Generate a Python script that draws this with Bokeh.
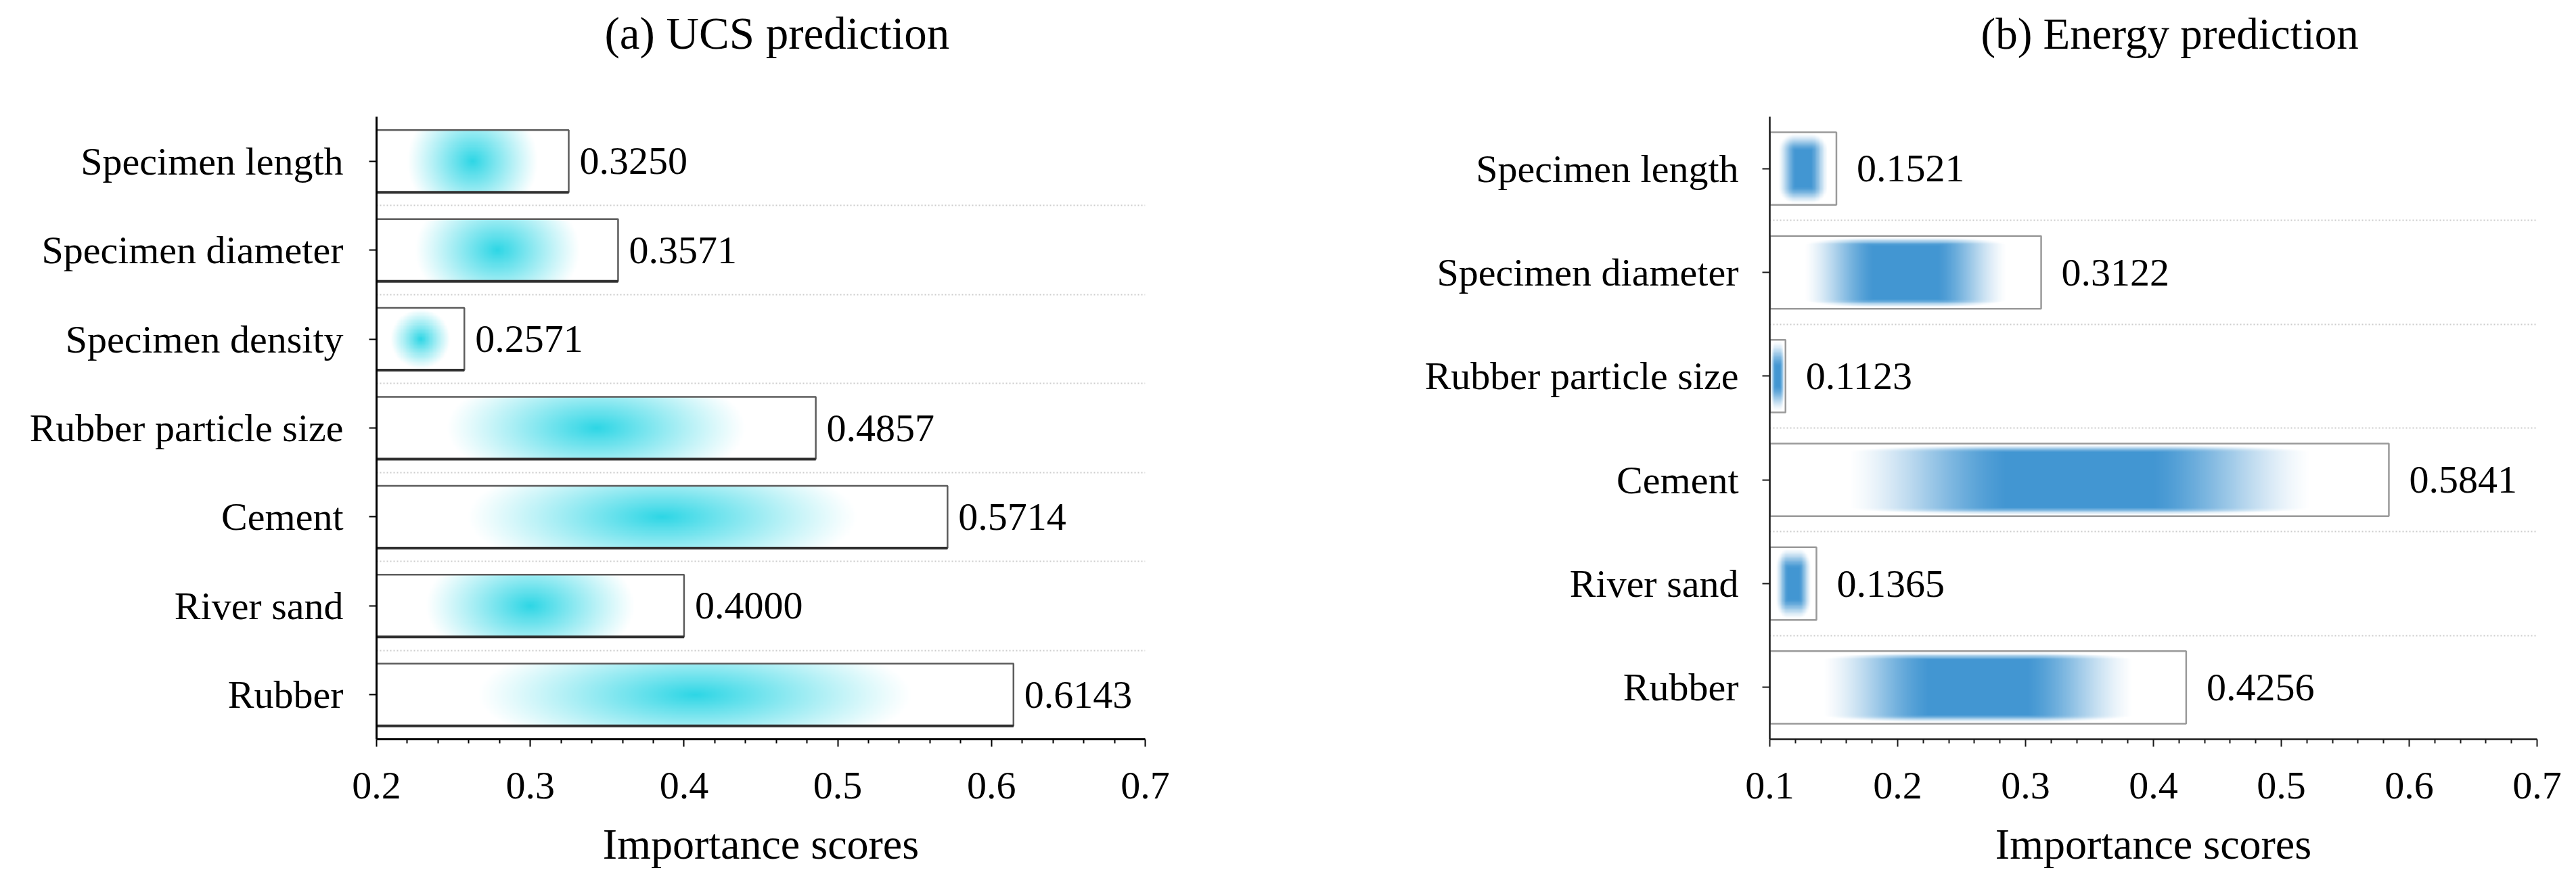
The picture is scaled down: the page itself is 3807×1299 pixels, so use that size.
import numpy as np
from bokeh.plotting import figure
from bokeh.layouts import row
from bokeh.models import FixedTicker, Title
from bokeh.embed import file_html
from bokeh.resources import INLINE
from bokeh.core.properties import value

# ---------------- data ----------------
ucs_features = ["Specimen length", "Specimen diameter", "Specimen density",
                "Rubber particle size", "Cement", "River sand", "Rubber"]
ucs_scores = [0.3250, 0.3571, 0.2571, 0.4857, 0.5714, 0.4000, 0.6143]
ucs_x_ticks = [0.2, 0.3, 0.4, 0.5, 0.6, 0.7]

energy_features = ["Specimen length", "Specimen diameter", "Rubber particle size",
                   "Cement", "River sand", "Rubber"]
energy_scores = [0.1521, 0.3122, 0.1123, 0.5841, 0.1365, 0.4256]
energy_x_ticks = [0.1, 0.2, 0.3, 0.4, 0.5, 0.6, 0.7]

FONT = "Liberation Serif"
BAR_H = 0.7
H = 1299
TOP = 172
BOTTOM = H - 1092


def smoothstep(t):
    t = np.clip(t, 0, 1)
    return t * t * (3 - 2 * t)


def grid(wpx, hpx):
    nx, ny = max(2, int(wpx / 2)), max(2, int(hpx / 2))
    hw, hh = wpx / 2.0, hpx / 2.0
    xs = (np.arange(nx) + 0.5) / nx * wpx - hw
    ys = (np.arange(ny) + 0.5) / ny * hpx - hh
    X, Y = np.meshgrid(xs, ys)
    return X, Y, hw, hh


def cyan_blob(wpx, hpx):
    X, Y, hw, hh = grid(wpx, hpx)
    rx = 0.68 * hw
    ry = min(rx, 2.0 * hh)
    r = np.sqrt((X / rx) ** 2 + (Y / ry) ** 2)
    return np.clip(1 - r, 0, 1) ** 1.1


def blue_blob(wpx, hpx):
    X, Y, hw, hh = grid(wpx, hpx)
    outer = 0.74 * hw if hw > 20 else 0.92 * hw
    core = 0.32 * outer
    u = np.clip((np.abs(X) - core) / max(outer - core, 1e-6), 0, 1)
    vout = 0.96 * hh
    fy = (0.2 + 0.6 * np.exp(-hw / 60.0)) * hh
    v = np.clip((np.abs(Y) - (vout - fy)) / fy, 0, 1)
    r = np.sqrt(u ** 2 + v ** 2)
    t = np.clip(1 - r, 0, 1)
    return 0.5 * t + 0.5 * smoothstep(t)


def to_rgba(inten, rgb):
    ny, nx = inten.shape
    img = np.empty((ny, nx, 4), dtype=np.uint8)
    for k in range(3):
        img[:, :, k] = np.round(255 * (1 - inten) + rgb[k] * inten).astype(np.uint8)
    img[:, :, 3] = 255
    return img.view(dtype=np.uint32).reshape((ny, nx))


def make_panel(title, title_size, title_offset, features, scores, xticks, width,
               border_left, border_right, blob_fn, rgb, bar_line, bar_lw, shadow,
               label_gap, ylab_standoff, axis_color, axis_w):
    n = len(features)
    ys = [n - 1 - i for i in range(n)]
    x0, x1 = xticks[0], xticks[-1]
    frame_w = width - border_left - border_right
    frame_h = H - TOP - BOTTOM
    px_x = frame_w / (x1 - x0)
    px_y = frame_h / n

    p = figure(width=width, height=H, output_backend="svg", toolbar_location=None,
               x_range=(x0, x1), y_range=(-0.5, n - 0.5),
               min_border_left=border_left, min_border_right=border_right,
               min_border_top=TOP, min_border_bottom=BOTTOM)
    p.outline_line_color = None
    p.background_fill_color = "white"
    p.border_fill_color = "white"

    # spacer between frame and title, then the title itself (outermost)
    p.add_layout(Title(text=" ", text_font_size="1px", standoff=84), "above")
    p.add_layout(Title(text=title, align="left", text_font=FONT,
                       text_font_size=title_size, text_font_style="normal",
                       text_color="black", offset=title_offset, standoff=0), "above")

    # gradient fills
    imgs, ix, iy, idw, idh = [], [], [], [], []
    for v, y in zip(scores, ys):
        wpx = (v - x0) * px_x
        hpx = BAR_H * px_y
        imgs.append(to_rgba(blob_fn(wpx, hpx), rgb))
        ix.append(x0)
        iy.append(y - BAR_H / 2)
        idw.append(v - x0)
        idh.append(BAR_H)
    p.image_rgba(image=imgs, x=ix, y=iy, dw=idw, dh=idh)

    # bar outlines
    p.hbar(y=ys, left=x0, right=scores, height=BAR_H, fill_color=None,
           line_color=bar_line, line_width=bar_lw)
    if shadow:
        p.segment(x0=[x0] * n, y0=[y - BAR_H / 2 for y in ys], x1=scores,
                  y1=[y - BAR_H / 2 for y in ys], line_color="#2f2f2f", line_width=4)

    # value labels
    p.text(x=scores, y=ys, text=[f"{v:.4f}" for v in scores], x_offset=label_gap,
           text_baseline="middle", text_align="left", text_font=value(FONT),
           text_font_size="58px", text_color="black")

    # grid
    p.xgrid.visible = False
    p.ygrid.ticker = FixedTicker(ticks=[k + 0.5 for k in range(n - 1)])
    p.ygrid.grid_line_color = "#cccccc"
    p.ygrid.grid_line_dash = "2 3"
    p.ygrid.grid_line_width = 2

    # x axis
    minor = []
    for a, b in zip(xticks[:-1], xticks[1:]):
        for k in range(1, 5):
            minor.append(a + (b - a) * k / 5)
    p.xaxis.ticker = FixedTicker(ticks=xticks, minor_ticks=minor)
    p.xaxis.major_label_overrides = {t: f"{t:.1f}" for t in xticks}
    p.xaxis.axis_label = "Importance scores"
    p.xaxis.axis_label_text_font = FONT
    p.xaxis.axis_label_text_font_size = "64px"
    p.xaxis.axis_label_text_font_style = "normal"
    p.xaxis.axis_label_text_color = "black"
    p.xaxis.axis_label_standoff = 29
    p.xaxis.major_label_text_font = FONT
    p.xaxis.major_label_text_font_size = "58px"
    p.xaxis.major_label_text_color = "black"
    p.xaxis.major_label_standoff = 38
    p.xaxis.major_tick_out = 11
    p.xaxis.major_tick_in = 0
    p.xaxis.minor_tick_out = 6
    p.xaxis.minor_tick_in = 0
    p.xaxis.axis_line_width = axis_w
    p.xaxis.major_tick_line_width = 2
    p.xaxis.minor_tick_line_width = 2
    p.xaxis.axis_line_color = axis_color
    p.xaxis.major_tick_line_color = axis_color
    p.xaxis.minor_tick_line_color = axis_color

    # y axis
    p.yaxis.ticker = FixedTicker(ticks=ys)
    p.yaxis.major_label_overrides = {y: f for y, f in zip(ys, features)}
    p.yaxis.major_label_text_font = FONT
    p.yaxis.major_label_text_font_size = "58px"
    p.yaxis.major_label_text_color = "black"
    p.yaxis.major_label_standoff = ylab_standoff
    p.yaxis.major_tick_out = 11
    p.yaxis.major_tick_in = 0
    p.yaxis.minor_tick_line_color = None
    p.yaxis.axis_line_width = axis_w
    p.yaxis.major_tick_line_width = 2
    p.yaxis.axis_line_color = axis_color
    p.yaxis.major_tick_line_color = axis_color
    return p


p1 = make_panel("(a) UCS prediction", "67px", 337, ucs_features, ucs_scores, ucs_x_ticks,
                width=1900, border_left=556, border_right=208,
                blob_fn=cyan_blob, rgb=(45, 214, 229), bar_line="#5c5c5c", bar_lw=2.5,
                shadow=True, label_gap=16, ylab_standoff=38,
                axis_color="black", axis_w=3)
p2 = make_panel("(b) Energy prediction", "65px", 312, energy_features, energy_scores,
                energy_x_ticks, width=1899, border_left=715, border_right=50,
                blob_fn=blue_blob, rgb=(66, 150, 210), bar_line="#9a9a9a", bar_lw=2.5,
                shadow=False, label_gap=30, ylab_standoff=35,
                axis_color="#1a1a1a", axis_w=2.5)

layout = row(p1, p2)
open("out.html", "w").write(file_html(layout, INLINE))
